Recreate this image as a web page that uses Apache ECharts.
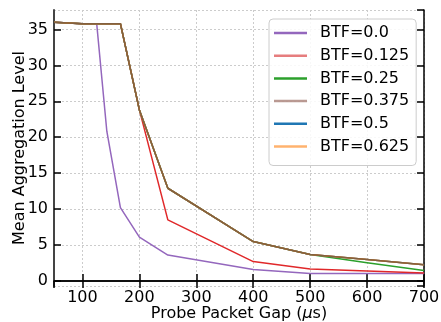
<!DOCTYPE html>
<html><head><meta charset="utf-8">
<script src="https://cdn.jsdelivr.net/npm/echarts@6/dist/echarts.min.js"></script>
<style>html,body{margin:0;padding:0;background:#fff}#c{width:441px;height:322px}</style>
</head><body><div id="c"></div>
<script>
const gaps = [50, 100, 125, 142.86, 166.67, 200, 250, 400, 500, 600, 700];
const btf0    = [36.0, 35.8, 35.8, 20.8, 10.2, 6.1, 3.6, 1.6, 1.05, 1.05, 1.05];
const btf0125 = [36.0, 35.8, 35.8, 35.8, 35.8, 23.8, 8.5, 2.7, 1.65, 1.4, 1.12];
const btf025  = [36.0, 35.8, 35.8, 35.8, 35.8, 23.8, 12.9, 5.48, 3.67, 2.55, 1.45];
const btf0375 = [36.0, 35.8, 35.8, 35.8, 35.8, 23.8, 12.9, 5.48, 3.67, 2.97, 2.25];
const btf05   = [36.0, 35.8, 35.8, 35.8, 35.8, 23.8, 12.9, 5.48, 3.67, 2.97, 2.25];
const btf0625 = [36.0, 35.8, 35.8, 35.8, 35.8, 23.8, 12.9, 5.48, 3.67, 2.97, 2.25];
const names = ['BTF=0.0','BTF=0.125','BTF=0.25','BTF=0.375','BTF=0.5','BTF=0.625'];
const xTicks = [100,200,300,400,500,600,700];
const yTicks = [0,5,10,15,20,25,30,35];

const FONT = 'DejaVu Sans';
function pairs(ys){ return gaps.map((g,i)=>[g,ys[i]]); }

const chart = echarts.init(document.getElementById('c'), null, {renderer:'canvas'});
const legendColors = ['#9467bd','rgba(214,39,40,0.6)','#2ca02c','rgba(140,86,75,0.6)','#1f77b4','rgba(255,127,14,0.6)'];
const lineColors = ['#9467bd','#e0282a','#2ca02c','#83603f','#1f77b4','#ff7f0e'];
const dataSets = [btf0, btf0125, btf025, btf0375, btf05, btf0625];
const order = [0,1,2,4,5,3];
const series = order.map(i=>({
  name: names[i], type:'line', xAxisIndex:0, yAxisIndex:0,
  data: pairs(dataSets[i]), symbol:'none', animation:false,
  lineStyle:{color:lineColors[i], width:1.5}, itemStyle:{color:lineColors[i]}
}));
const xLab = v => xTicks.includes(Math.round(v)) ? String(Math.round(v)) : '';
const yLab = v => yTicks.includes(Math.round(v*1000)/1000) ? String(v) : '';
chart.setOption({
  animation:false,
  grid:{left:54, right:17, top:10, bottom:36, outerBoundsMode:'none', containLabel:false},
  legend:{
    orient:'vertical', left:269, top:19,
    padding:[6,7,11,5], itemGap:6.7, itemWidth:33, itemHeight:2.5,
    backgroundColor:'rgba(255,255,255,0.85)', borderColor:'#cccccc', borderWidth:1, borderRadius:4,
    textStyle:{fontFamily:FONT, fontSize:16, color:'#000', padding:[0,0,0,8], lineHeight:16},
    data: names.map((n,i)=>({name:n, icon:'rect', itemStyle:{color:legendColors[i]}}))
  },
  xAxis:[{
    type:'value', min:50, max:700, splitNumber:7, position:'bottom',
    name:'Probe Packet Gap ({i|\u03bc}s)', nameLocation:'middle', nameGap:20, nameMoveOverlap:false,
    nameTextStyle:{fontFamily:FONT, fontSize:16, color:'#000', rich:{i:{fontFamily:FONT, fontSize:16, fontStyle:'italic'}}},
    axisLine:{show:true, lineStyle:{color:'#444', width:2}},
    axisTick:{show:true, inside:true, length:7, lineStyle:{color:'#000', width:1.5}},
    axisLabel:{fontFamily:FONT, fontSize:16, color:'#000', margin:4, formatter:xLab, showMinLabel:false},
    splitLine:{show:true, lineStyle:{color:'#cccccc', type:[2,2], width:1}}
  },{
    type:'value', min:50, max:700, splitNumber:7, position:'top',
    axisLine:{show:true, lineStyle:{color:'#000', width:1.5}},
    axisTick:{show:true, inside:true, length:7, lineStyle:{color:'#000', width:1.5}},
    axisLabel:{show:false}, splitLine:{show:false}
  }],
  yAxis:[{
    type:'value', min:-0.7, max:37.7, splitNumber:8, position:'left',
    name:'Mean Aggregation Level', nameLocation:'middle', nameGap:26, nameMoveOverlap:false,
    nameTextStyle:{fontFamily:FONT, fontSize:16, color:'#000'},
    axisLine:{show:true, lineStyle:{color:'#444', width:2}},
    axisTick:{show:true, inside:true, length:7, lineStyle:{color:'#000', width:1.5}},
    axisLabel:{fontFamily:FONT, fontSize:16, color:'#000', margin:6, formatter:yLab, showMinLabel:false, showMaxLabel:false},
    splitLine:{show:true, lineStyle:{color:'#cccccc', type:[2,2], width:1}}
  },{
    type:'value', min:-0.7, max:37.7, splitNumber:8, position:'right',
    axisLine:{show:true, lineStyle:{color:'#000', width:1.5}},
    axisTick:{show:true, inside:true, length:7, lineStyle:{color:'#000', width:1.5}},
    axisLabel:{show:false}, splitLine:{show:false}
  }],
  series: series
});
</script></body></html>
